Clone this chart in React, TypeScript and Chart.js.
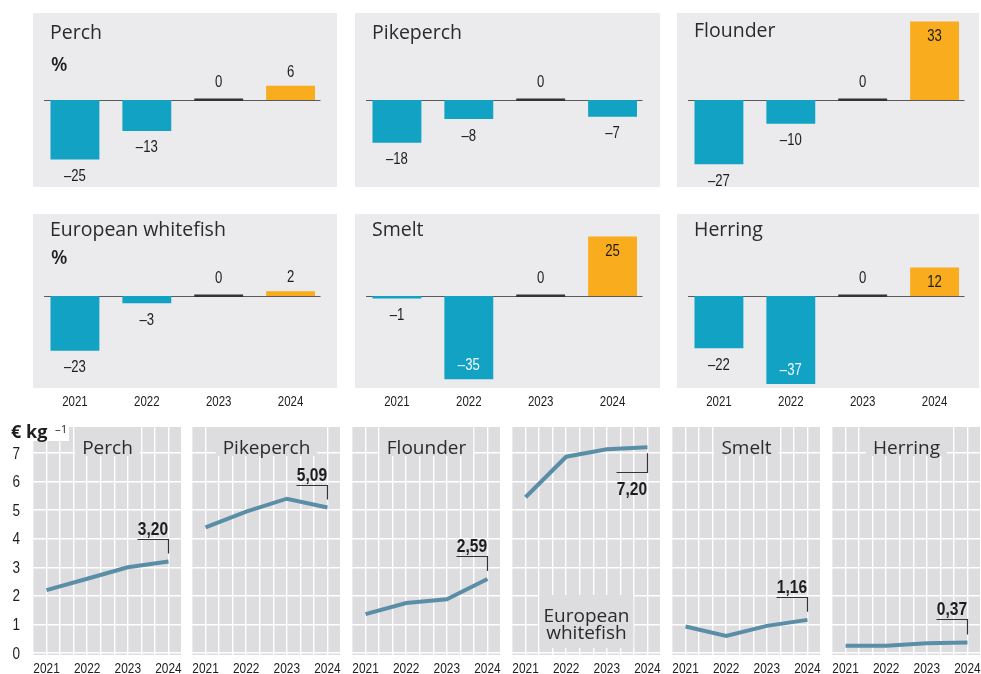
import React, { useEffect, useRef } from 'react';
import { Chart, registerables } from 'chart.js';

Chart.register(...registerables);

// ---------- DATA ----------
const YEARS = ['2021', '2022', '2023', '2024'];

const PERCH_CHANGE = [-25, -13, 0, 6];
const PIKEPERCH_CHANGE = [-18, -8, 0, -7];
const FLOUNDER_CHANGE = [-27, -10, 0, 33];
const WHITEFISH_CHANGE = [-23, -3, 0, 2];
const SMELT_CHANGE = [-1, -35, 0, 25];
const HERRING_CHANGE = [-22, -37, 0, 12];

const PRICE_YEARS = [2021, 2022, 2023, 2024];
const PERCH_PRICE = [2.2, 2.6, 3.0, 3.2];
const PIKEPERCH_PRICE = [4.4, 4.95, 5.4, 5.09];
const FLOUNDER_PRICE = [1.36, 1.75, 1.88, 2.59];
const WHITEFISH_PRICE = [5.45, 6.87, 7.13, 7.2];
const SMELT_PRICE = [0.93, 0.6, 0.95, 1.16];
const HERRING_PRICE = [0.25, 0.25, 0.34, 0.37];

const PRICE_TICKS = [0, 1, 2, 3, 4, 5, 6, 7];

// ---------- STYLE ----------
const BASE = "'Liberation Sans', Arial, sans-serif";
const SANS = "'Open Sans', 'Noto Sans', sans-serif";
const NARROW_SCALE = 0.82;
const TOP_BG = '#ebebed';
const BOTTOM_BG = '#dddddf';
const TEAL = '#11a2c4';
const ORANGE = '#f8ac1e';
const LINE = '#5a8ea7';
const TEXT = '#1e1e1e';
const TITLE = '#2b2b2b';
const PANEL_H = 174;

type BarPanel = {
  title: string; values: number[]; left: number; top: number; width: number;
  row: number; pct: boolean; titleBase: number; showYears: boolean;
};

const BAR_PANELS: BarPanel[] = [
  { title: 'Perch', values: PERCH_CHANGE, left: 33, top: 13, width: 304, row: 0, pct: true, titleBase: 25.6, showYears: false },
  { title: 'Pikeperch', values: PIKEPERCH_CHANGE, left: 355, top: 13, width: 305, row: 0, pct: false, titleBase: 25.6, showYears: false },
  { title: 'Flounder', values: FLOUNDER_CHANGE, left: 677, top: 13, width: 302, row: 0, pct: false, titleBase: 23.5, showYears: false },
  { title: 'European whitefish', values: WHITEFISH_CHANGE, left: 33, top: 214, width: 304, row: 1, pct: true, titleBase: 22, showYears: true },
  { title: 'Smelt', values: SMELT_CHANGE, left: 355, top: 214, width: 305, row: 1, pct: false, titleBase: 22, showYears: true },
  { title: 'Herring', values: HERRING_CHANGE, left: 677, top: 214, width: 302, row: 1, pct: false, titleBase: 22, showYears: true },
];

type LinePanel = {
  title: string[]; values: number[]; left: number; first: boolean; below: boolean;
};

const LINE_PANELS: LinePanel[] = [
  { title: ['Perch'], values: PERCH_PRICE, left: 33, first: true, below: false },
  { title: ['Pikeperch'], values: PIKEPERCH_PRICE, left: 192, first: false, below: false },
  { title: ['Flounder'], values: FLOUNDER_PRICE, left: 352, first: false, below: false },
  { title: ['European', 'whitefish'], values: WHITEFISH_PRICE, left: 512, first: false, below: true },
  { title: ['Smelt'], values: SMELT_PRICE, left: 672, first: false, below: false },
  { title: ['Herring'], values: HERRING_PRICE, left: 832, first: false, below: false },
];

const fmtChange = (v: number) => (v < 0 ? '\u2013' + Math.abs(v) : String(v));
const fmtPrice = (v: number) => v.toFixed(2).replace('.', ',');

function narrowText(ctx: any, text: string, x: number, y: number, size: number, opts: { bold?: boolean; align?: string; color?: string } = {}) {
  ctx.save();
  ctx.font = `${opts.bold ? 'bold ' : ''}${size}px ${BASE}`;
  ctx.fillStyle = opts.color || TEXT;
  ctx.textAlign = opts.align || 'center';
  ctx.textBaseline = 'alphabetic';
  ctx.translate(x, y);
  ctx.scale(NARROW_SCALE, 1);
  ctx.fillText(text, 0, 0);
  ctx.restore();
}

// ---------- BAR CHART CONFIG ----------
function barConfig(p: BarPanel): any {
  const pxPerUnit = 2.38;
  const zeroRel = p.row === 0 ? 87 : 82;
  const yMax = zeroRel / pxPerUnit;
  const yMin = -(PANEL_H - zeroRel) / pxPerUnit;
  const plugin = {
    id: 'barDecor',
    beforeDraw(chart: any) {
      const ctx = chart.ctx;
      ctx.save();
      ctx.fillStyle = TOP_BG;
      ctx.fillRect(0, 0, chart.width, PANEL_H);
      ctx.restore();
    },
    beforeDatasetsDraw(chart: any) {
      const { ctx, chartArea } = chart;
      const y0 = Math.round(chart.scales.y.getPixelForValue(0));
      ctx.save();
      ctx.strokeStyle = '#5a5a5a';
      ctx.lineWidth = 1;
      ctx.beginPath();
      ctx.moveTo(chartArea.left + 5, y0 + 0.5);
      ctx.lineTo(chartArea.right - 6, y0 + 0.5);
      ctx.stroke();
      ctx.restore();
    },
    afterDatasetsDraw(chart: any) {
      const { ctx } = chart;
      const y0 = chart.scales.y.getPixelForValue(0);
      const meta = chart.getDatasetMeta(0);
      ctx.save();
      meta.data.forEach((bar: any, i: number) => {
        const v = p.values[i];
        if (v === 0) {
          ctx.fillStyle = '#333333';
          ctx.fillRect(bar.x - bar.width / 2, y0 - 1.5, bar.width, 2.5);
        }
        let c: number;
        let color = TEXT;
        if (v <= -30) { c = bar.y - 15; color = '#f4f8fa'; }
        else if (v < 0) c = bar.y + 16;
        else if (v === 0) c = y0 - 19;
        else if (v >= 10) c = bar.y + 14;
        else c = bar.y - 14.5;
        narrowText(ctx, fmtChange(v), bar.x, c + 5.5, 16, { color });
        if (p.showYears) {
          const x = chart.scales.x.getPixelForValue(i);
          narrowText(ctx, YEARS[i], x, PANEL_H + 17.5, 14);
        }
      });
      ctx.fillStyle = TITLE;
      ctx.font = `19.5px ${SANS}`;
      ctx.textAlign = 'left';
      ctx.textBaseline = 'alphabetic';
      ctx.fillText(p.title, 17, p.titleBase);
      if (p.pct) {
        ctx.fillStyle = TEXT;
        ctx.font = `600 19px ${SANS}`;
        ctx.fillText('%', 18, p.row === 0 ? 57.5 : 49.5);
      }
      ctx.restore();
    },
  };
  return {
    type: 'bar',
    data: {
      labels: YEARS,
      datasets: [{
        data: p.values,
        backgroundColor: p.values.map((v) => (v > 0 ? ORANGE : v < 0 ? TEAL : 'rgba(0,0,0,0)')),
        borderWidth: 0,
        barPercentage: 0.68,
        categoryPercentage: 1,
      }],
    },
    options: {
      animation: false,
      responsive: false,
      maintainAspectRatio: false,
      layout: { padding: { left: 6, right: p.width - 293.5, top: 0, bottom: p.showYears ? 28 : 0 } },
      plugins: { legend: { display: false }, tooltip: { enabled: false }, title: { display: false } },
      scales: {
        x: { display: false },
        y: { display: false, min: yMin, max: yMax },
      },
    },
    plugins: [plugin],
  };
}

// ---------- LINE CHART CONFIG ----------
function lineConfig(p: LinePanel): any {
  const plugin = {
    id: 'lineDecor',
    beforeDraw(chart: any) {
      const { ctx, chartArea: a } = chart;
      ctx.save();
      ctx.fillStyle = BOTTOM_BG;
      ctx.fillRect(a.left, a.top, a.right - a.left, a.bottom - a.top);
      ctx.restore();
    },
    beforeDatasetsDraw(chart: any) {
      const { ctx, chartArea: a } = chart;
      const cx = (a.left + a.right) / 2;
      ctx.save();
      ctx.font = `19px ${SANS}`;
      ctx.textAlign = 'center';
      ctx.textBaseline = 'alphabetic';
      const w = Math.max(...p.title.map((t) => ctx.measureText(t).width));
      ctx.fillStyle = BOTTOM_BG;
      if (!p.below) {
        ctx.fillRect(cx - w / 2 - 7, a.top, w + 14, 29);
        ctx.fillStyle = TITLE;
        ctx.fillText(p.title[0], cx, a.top + 26.5);
      } else {
        ctx.fillRect(cx - w / 2 - 4, a.bottom - 60, w + 8, 53);
        ctx.fillStyle = TITLE;
        ctx.fillText(p.title[0], cx, a.bottom - 33.3);
        ctx.fillText(p.title[1], cx, a.bottom - 15.7);
      }
      ctx.restore();
    },
    afterDatasetsDraw(chart: any) {
      const { ctx, chartArea: a } = chart;
      const meta = chart.getDatasetMeta(0);
      const last = meta.data[meta.data.length - 1];
      const px = last.x;
      const py = last.y;
      const v = p.values[p.values.length - 1];
      ctx.save();
      ctx.strokeStyle = '#333333';
      ctx.lineWidth = 1.2;
      const bx = Math.round(px) + 0.5;
      if (!p.below) {
        const by = Math.round(py - 23) + 0.5;
        ctx.beginPath();
        ctx.moveTo(bx - 31, by);
        ctx.lineTo(bx, by);
        ctx.lineTo(bx, py - 8);
        ctx.stroke();
        narrowText(ctx, fmtPrice(v), px - 15.5, by - 5, 19, { bold: true });
      } else {
        const by = Math.round(py + 25) + 0.5;
        ctx.beginPath();
        ctx.moveTo(bx, py + 6);
        ctx.lineTo(bx, by);
        ctx.lineTo(bx - 31, by);
        ctx.stroke();
        narrowText(ctx, fmtPrice(v), px - 15.5, by + 22.5, 19, { bold: true });
      }
      const xs = chart.scales.x;
      PRICE_YEARS.forEach((yr) => {
        narrowText(ctx, String(yr), xs.getPixelForValue(yr), a.bottom + 17.5, 14.5);
      });
      if (p.first) {
        const ys = chart.scales.y;
        PRICE_TICKS.forEach((t) => {
          narrowText(ctx, String(t), 20, ys.getPixelForValue(t) + 5.6, 16.5, { align: 'right' });
        });
        ctx.fillStyle = '#ffffff';
        ctx.fillRect(a.left, a.top, 36, 14);
        ctx.fillStyle = TEXT;
        ctx.textAlign = 'left';
        ctx.textBaseline = 'alphabetic';
        ctx.font = `bold 18px ${SANS}`;
        ctx.fillText('\u20ac kg', 11, 18);
        ctx.font = `11.5px ${SANS}`;
        ctx.fillText('\u20131', 55, 13);
      }
      ctx.restore();
    },
  };
  const zeroFit = (s: any) => {
    if (s.isHorizontal()) s.height = 0; else s.width = 0;
    s.paddingTop = 0; s.paddingBottom = 0; s.paddingLeft = 0; s.paddingRight = 0;
  };
  return {
    type: 'line',
    data: {
      datasets: [{
        data: PRICE_YEARS.map((yr, i) => ({ x: yr, y: p.values[i] })),
        borderColor: LINE,
        borderWidth: 4,
        pointRadius: 0,
        tension: 0,
        borderCapStyle: 'butt',
        borderJoinStyle: 'miter',
      }],
    },
    options: {
      animation: false,
      responsive: false,
      maintainAspectRatio: false,
      layout: { padding: { left: p.first ? 33 : 8, right: 8, top: 7, bottom: 19 } },
      plugins: { legend: { display: false }, tooltip: { enabled: false }, title: { display: false } },
      scales: {
        x: {
          type: 'linear',
          min: PRICE_YEARS[0] - 1 / 3,
          max: PRICE_YEARS[PRICE_YEARS.length - 1] + 1 / 3,
          afterBuildTicks: (s: any) => {
            const ticks = [];
            for (let k = 0; k < 12; k++) ticks.push({ value: PRICE_YEARS[0] + (k - 1) / 3 });
            s.ticks = ticks;
          },
          grid: { color: '#ffffff', lineWidth: 1.4, drawTicks: false },
          border: { display: false },
          ticks: { display: false },
          afterFit: zeroFit,
        },
        y: {
          min: -0.07,
          max: 7.91,
          afterBuildTicks: (s: any) => { s.ticks = PRICE_TICKS.map((v) => ({ value: v })); },
          grid: { color: '#ffffff', lineWidth: 1.4, drawTicks: false },
          border: { display: false },
          ticks: { display: false },
          afterFit: zeroFit,
        },
      },
    },
    plugins: [plugin],
  };
}

function ChartBox(props: { left: number; top: number; width: number; height: number; make: () => any }) {
  const ref = useRef<HTMLCanvasElement>(null);
  useEffect(() => {
    const chart = new Chart(ref.current as HTMLCanvasElement, props.make());
    return () => chart.destroy();
  }, []);
  return (
    <canvas
      ref={ref}
      width={props.width}
      height={props.height}
      style={{ position: 'absolute', left: props.left, top: props.top, width: props.width, height: props.height }}
    />
  );
}

export default function App() {
  return (
    <div style={{ position: 'absolute', left: 0, top: 0, width: 981, height: 674, background: '#ffffff', overflow: 'hidden' }}>
      {BAR_PANELS.map((p, i) => (
        <ChartBox
          key={'b' + i}
          left={p.left}
          top={p.top}
          width={p.width}
          height={p.showYears ? PANEL_H + 28 : PANEL_H}
          make={() => barConfig(p)}
        />
      ))}
      {LINE_PANELS.map((p, i) => (
        <ChartBox
          key={'l' + i}
          left={p.first ? 0 : p.left - 8}
          top={420}
          width={p.first ? p.left + 149 + 8 : 149 + 16}
          height={254}
          make={() => lineConfig(p)}
        />
      ))}
    </div>
  );
}
